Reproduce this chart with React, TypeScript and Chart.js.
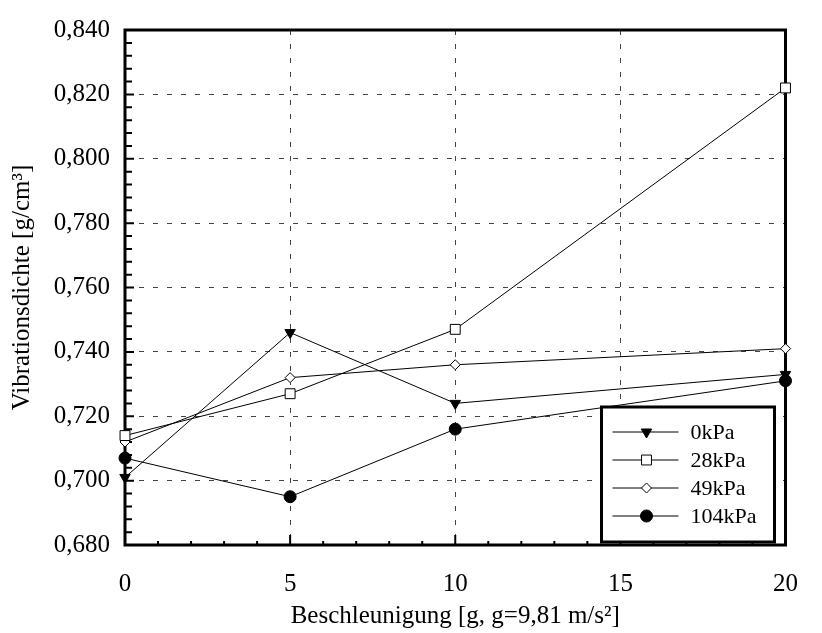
import React, { useEffect, useRef } from "react";
import { Chart, registerables } from "chart.js";
import { drawPoint } from "chart.js/helpers";

Chart.register(...registerables);

// Beschleunigung in g
const accel = [0, 5, 10, 20];

// Vibrationsdichte in g/cm³ je Auflast
const dens0kPa = [0.701, 0.746, 0.724, 0.733];
const dens28kPa = [0.714, 0.727, 0.747, 0.822];
const dens49kPa = [0.712, 0.732, 0.736, 0.741];
const dens104kPa = [0.707, 0.695, 0.716, 0.731];

const seriesNames = ["0kPa", "28kPa", "49kPa", "104kPa"];

const xTickValues = [0, 5, 10, 15, 20];
const yTickValues = [0.68, 0.7, 0.72, 0.74, 0.76, 0.78, 0.8, 0.82, 0.84];

const xTitle = "Beschleunigung [g, g=9,81 m/s²]";
const yTitle = "Vibrationsdichte [g/cm³]";

const X_MIN = 0;
const X_MAX = 20;
const Y_MIN = 0.68;
const Y_MAX = 0.84;

const W = 822;
const H = 633;

const FONT = "'Liberation Serif', 'Times New Roman', serif";

const markers = [
  { pointStyle: "triangle", rotation: 180, radius: 6, fill: true },
  { pointStyle: "rect", rotation: 0, radius: 7, fill: false },
  { pointStyle: "rectRot", rotation: 0, radius: 5, fill: false },
  { pointStyle: "circle", rotation: 0, radius: 6, fill: true },
];

const fmtComma = (v: number) => v.toFixed(3).replace(".", ",");

// Rahmen und nach innen gerichtete Teilstriche
const framePlugin = {
  id: "frame",
  beforeDatasetsDraw(chart: any) {
    const { ctx, chartArea, scales } = chart;
    const { left, right, top, bottom } = chartArea;
    const x = scales.x;
    const y = scales.y;
    ctx.save();
    ctx.strokeStyle = "#000";
    ctx.lineWidth = 2;
    ctx.beginPath();
    for (let v = X_MIN + 1; v < X_MAX; v++) {
      const px = x.getPixelForValue(v);
      const len = v % 5 === 0 ? 10 : 4;
      ctx.moveTo(px, bottom);
      ctx.lineTo(px, bottom - len);
    }
    const steps = Math.round((Y_MAX - Y_MIN) / 0.004);
    for (let i = 1; i < steps; i++) {
      const py = y.getPixelForValue(Y_MIN + i * 0.004);
      const len = i % 5 === 0 ? 9 : 7;
      ctx.moveTo(left, py);
      ctx.lineTo(left + len, py);
    }
    ctx.stroke();
    ctx.lineWidth = 3;
    ctx.strokeRect(left, top, right - left, bottom - top);
    ctx.restore();
  },
};

// Legende im Diagramm unten rechts
const legendPlugin = {
  id: "boxLegend",
  afterDatasetsDraw(chart: any) {
    const { ctx, chartArea } = chart;
    const w = 173;
    const h = 135;
    const bx = chartArea.right - 11 - w;
    const by = chartArea.bottom - 3 - h;
    ctx.save();
    ctx.fillStyle = "#fff";
    ctx.fillRect(bx, by, w, h);
    ctx.lineWidth = 3;
    ctx.strokeStyle = "#000";
    ctx.strokeRect(bx, by, w, h);
    ctx.font = `22px ${FONT}`;
    ctx.textBaseline = "middle";
    ctx.textAlign = "left";
    chart.data.datasets.forEach((ds: any, i: number) => {
      const ry = by + 25 + i * 28;
      ctx.strokeStyle = "#000";
      ctx.lineWidth = 1;
      ctx.beginPath();
      ctx.moveTo(bx + 11, ry);
      ctx.lineTo(bx + 77, ry);
      ctx.stroke();
      const m = markers[i];
      ctx.fillStyle = m.fill ? "#000" : "#fff";
      ctx.strokeStyle = "#000";
      ctx.lineWidth = 1;
      drawPoint(
        ctx,
        { pointStyle: m.pointStyle as any, rotation: m.rotation, radius: m.radius, borderWidth: 1 },
        bx + 45,
        ry
      );
      ctx.fillStyle = "#000";
      ctx.fillText(ds.label, bx + 89, ry + 1);
    });
    ctx.restore();
  },
};

export default function App() {
  const canvasRef = useRef<HTMLCanvasElement | null>(null);

  useEffect(() => {
    const canvas = canvasRef.current;
    if (!canvas) return;
    document.documentElement.style.overflow = "hidden";
    document.body.style.overflow = "hidden";
    document.body.style.margin = "0";

    const seriesValues = [dens0kPa, dens28kPa, dens49kPa, dens104kPa];
    const datasets = seriesValues.map((vals, i) => ({
      label: seriesNames[i],
      data: accel.map((a, j) => ({ x: a, y: vals[j] })),
      borderColor: "#000",
      borderWidth: 1,
      backgroundColor: markers[i].fill ? "#000" : "#fff",
      pointBackgroundColor: markers[i].fill ? "#000" : "#fff",
      pointBorderColor: "#000",
      pointBorderWidth: 1,
      pointStyle: markers[i].pointStyle,
      pointRotation: markers[i].rotation,
      pointRadius: markers[i].radius,
      tension: 0,
      clip: false as any,
    }));

    const chart = new Chart(canvas, {
      type: "line",
      data: { datasets },
      plugins: [framePlugin, legendPlugin],
      options: {
        animation: false,
        responsive: false,
        maintainAspectRatio: false,
        devicePixelRatio: 1,
        layout: { padding: { left: 0, right: 16, top: 21, bottom: 0 } },
        plugins: {
          legend: { display: false },
          tooltip: { enabled: false },
        },
        scales: {
          x: {
            type: "linear",
            min: X_MIN,
            max: X_MAX,
            afterBuildTicks: (scale: any) => {
              scale.ticks = xTickValues.map((v) => ({ value: v }));
            },
            afterFit: (scale: any) => {
              scale.height = 88;
            },
            ticks: {
              color: "#000",
              font: { family: FONT, size: 25 },
              padding: 24,
              maxRotation: 0,
              callback: (v: any) => String(v),
            },
            grid: {
              drawTicks: false,
              color: (c: any) =>
                c.tick && (c.tick.value === X_MIN || c.tick.value === X_MAX)
                  ? "rgba(0,0,0,0)"
                  : "#444",
              lineWidth: 1,
            },
            border: { display: false, dash: [5, 9] },
            title: {
              display: true,
              text: xTitle,
              color: "#000",
              font: { family: FONT, size: 25 },
              padding: { top: 0, bottom: 2 },
            },
          },
          y: {
            type: "linear",
            min: Y_MIN,
            max: Y_MAX,
            afterBuildTicks: (scale: any) => {
              scale.ticks = yTickValues.map((v) => ({ value: v }));
            },
            afterFit: (scale: any) => {
              scale.width = 125;
            },
            ticks: {
              color: "#000",
              font: { family: FONT, size: 25 },
              padding: 15,
              callback: (v: any) => fmtComma(Number(v)),
            },
            grid: {
              drawTicks: false,
              color: (c: any) =>
                c.tick &&
                (Math.abs(c.tick.value - Y_MIN) < 1e-6 || Math.abs(c.tick.value - Y_MAX) < 1e-6)
                  ? "rgba(0,0,0,0)"
                  : "#444",
              lineWidth: 1,
            },
            border: { display: false, dash: [5, 9] },
            title: {
              display: true,
              text: yTitle,
              color: "#000",
              font: { family: FONT, size: 25 },
              padding: { top: 7, bottom: 0 },
            },
          },
        },
      },
    });
    return () => chart.destroy();
  }, []);

  return (
    <div style={{ position: "fixed", left: 0, top: 0, width: W, height: H, background: "#fff", overflow: "hidden" }}>
      <canvas ref={canvasRef} width={W} height={H} style={{ display: "block", width: W, height: H }} />
    </div>
  );
}
